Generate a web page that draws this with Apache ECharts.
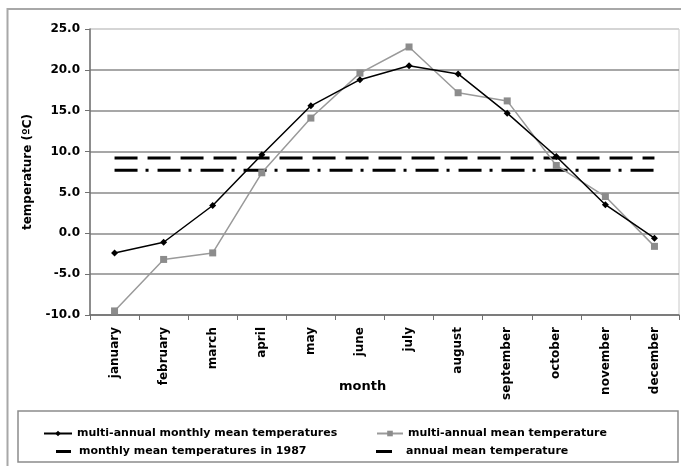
<!DOCTYPE html>
<html>
<head>
<meta charset="utf-8">
<script src="https://cdn.jsdelivr.net/npm/echarts@6/dist/echarts.min.js"></script>
<style>html,body{margin:0;padding:0;background:#fff;}#c{width:681px;height:466px;}</style>
</head>
<body>
<div id="c"></div>
<script>
var months = ['january','february','march','april','may','june','july','august','september','october','november','december'];
var multiAnnualMonthly = [-2.4, -1.1, 3.4, 9.6, 15.6, 18.8, 20.5, 19.5, 14.7, 9.4, 3.5, -0.6];
var multiAnnualMean = [-9.5, -3.2, -2.4, 7.4, 14.1, 19.6, 22.8, 17.2, 16.2, 8.3, 4.5, -1.6];
var monthly1987 = [9.2, 9.2, 9.2, 9.2, 9.2, 9.2, 9.2, 9.2, 9.2, 9.2, 9.2, 9.2];
var annualMean = [7.7, 7.7, 7.7, 7.7, 7.7, 7.7, 7.7, 7.7, 7.7, 7.7, 7.7, 7.7];
var yTicks = [-10, -5, 0, 5, 10, 15, 20, 25];

var names = ['multi-annual monthly mean temperatures', 'multi-annual mean temperature',
             'monthly mean temperatures in 1987', 'annual mean temperature'];
var FONT = 'DejaVu Sans';
var legendText = {fontFamily: FONT, fontWeight: 'bold', fontSize: 11, color: '#000'};

var chart = echarts.init(document.getElementById('c'), null, {renderer: 'canvas'});
chart.setOption({
  animation: false,
  backgroundColor: '#fff',
  grid: {left: 90, right: 2, top: 29, bottom: 151, show: true, borderColor: '#c8c8c8', borderWidth: 1, backgroundColor: 'transparent'},
  xAxis: {
    type: 'category', data: months, boundaryGap: true,
    axisLine: {onZero: false, lineStyle: {color: '#707070', width: 1.5}},
    axisTick: {show: true, length: 5, alignWithLabel: false, lineStyle: {color: '#707070'}},
    axisLabel: {rotate: 90, margin: 12, fontFamily: FONT, fontWeight: 'bold', fontSize: 12, color: '#000', interval: 0},
    splitLine: {show: false}
  },
  yAxis: {
    type: 'value', min: yTicks[0], max: yTicks[yTicks.length - 1], interval: 5,
    name: 'temperature (ºC)', nameLocation: 'middle', nameGap: 56,
    nameTextStyle: {fontFamily: FONT, fontWeight: 'bold', fontSize: 12, color: '#000'},
    axisLine: {show: true, lineStyle: {color: '#707070', width: 1.5}},
    axisTick: {show: true, length: 5, lineStyle: {color: '#707070'}},
    axisLabel: {margin: 10, fontFamily: FONT, fontWeight: 'bold', fontSize: 12, color: '#000',
      formatter: function (v) { return v.toFixed(1); }},
    splitLine: {show: true, lineStyle: {color: ['#8a8a8a','#8a8a8a','#8a8a8a','#8a8a8a','#8a8a8a','#8a8a8a','#8a8a8a','#d0d0d0'], width: 1.5}}
  },
  legend: [
    {data: [names[0]], left: 43, top: 428, padding: 0, itemWidth: 28, itemHeight: 7, textStyle: legendText},
    {data: [names[1]], left: 376, top: 428, padding: 0, itemWidth: 26, itemHeight: 7, textStyle: legendText},
    {data: [{name: names[2], icon: 'rect'}], left: 56, top: 446, padding: 0, itemWidth: 15, itemHeight: 3,
      textStyle: Object.assign({padding: [0, 0, 0, 3]}, legendText)},
    {data: [{name: names[3], icon: 'rect'}], left: 376, top: 446, padding: 0, itemWidth: 16, itemHeight: 3,
      textStyle: Object.assign({padding: [0, 0, 0, 9]}, legendText)}
  ],
  series: [
    {name: names[2], type: 'line', data: monthly1987, symbol: 'none', z: 2,
      lineStyle: {color: '#000', width: 3, type: [23, 10]}, itemStyle: {color: '#000'}},
    {name: names[3], type: 'line', data: annualMean, symbol: 'none', z: 2,
      lineStyle: {color: '#000', width: 3, type: [23, 8, 3, 9]}, itemStyle: {color: '#000'}},
    {name: names[1], type: 'line', data: multiAnnualMean, symbol: 'rect', symbolSize: 7, z: 3,
      lineStyle: {color: '#9a9a9a', width: 1.5}, itemStyle: {color: '#8c8c8c'}},
    {name: names[0], type: 'line', data: multiAnnualMonthly, symbol: 'diamond', symbolSize: 7, z: 4,
      lineStyle: {color: '#000', width: 1.5}, itemStyle: {color: '#000'}}
  ],
  graphic: [
    {type: 'rect', silent: true, z: -1, shape: {x: 7.5, y: 9, width: 720, height: 520},
      style: {fill: 'none', stroke: '#a8a8a8', lineWidth: 2}},
    {type: 'rect', silent: true, shape: {x: 18, y: 411, width: 660, height: 51},
      style: {fill: 'none', stroke: '#8c8c8c', lineWidth: 1.5}},
    {type: 'text', silent: true, left: 339, top: 380,
      style: {text: 'month', fontFamily: FONT, fontWeight: 'bold', fontSize: 13, fill: '#000'}}
  ]
});
</script>
</body>
</html>
